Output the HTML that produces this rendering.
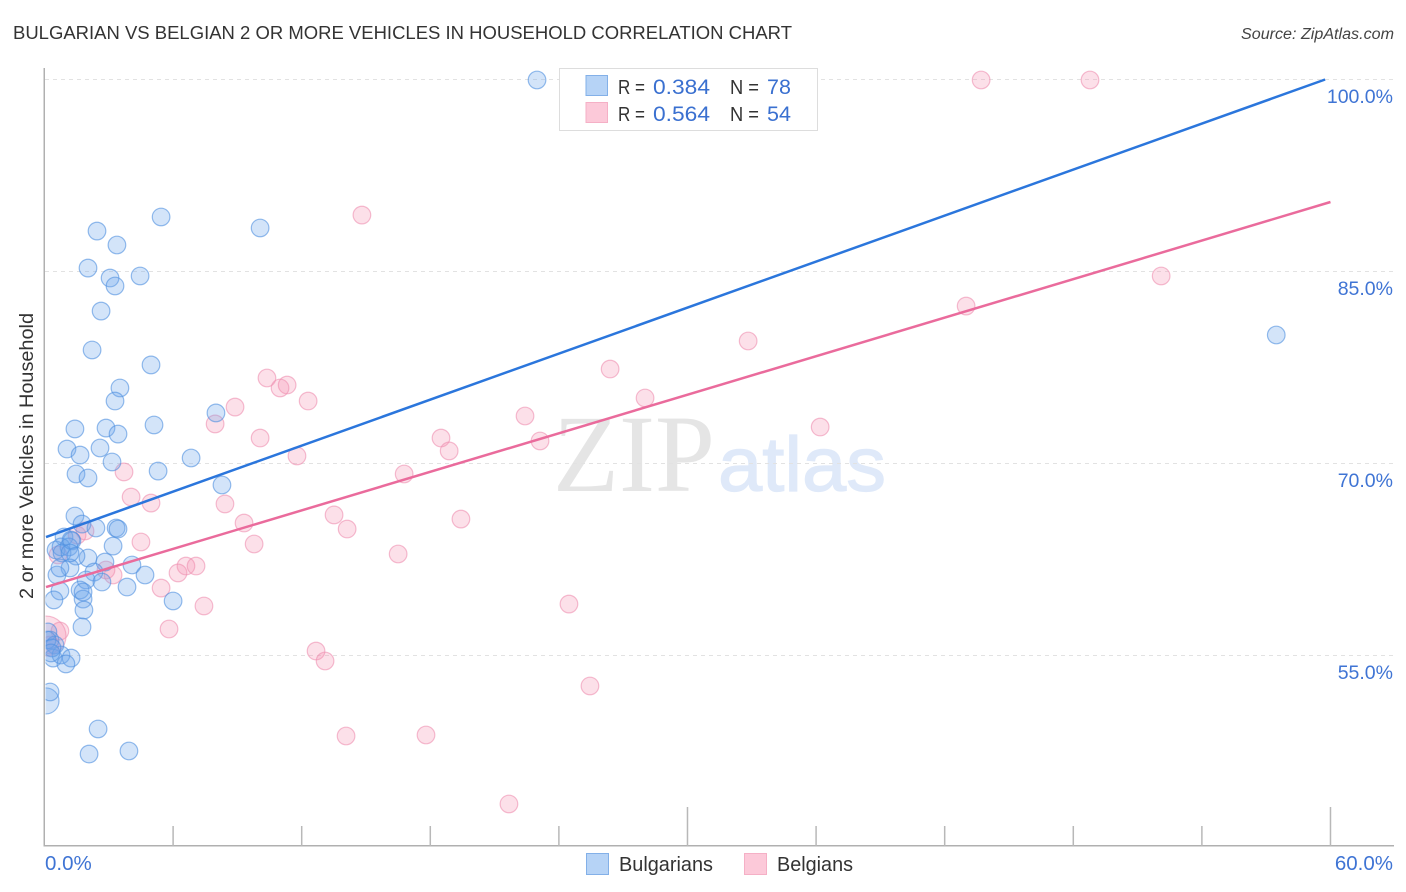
<!DOCTYPE html>
<html>
<head>
<meta charset="utf-8">
<title>Bulgarian vs Belgian 2 or more Vehicles in Household Correlation Chart</title>
<style>
html,body{margin:0;padding:0;background:#fff;}
body{width:1406px;height:892px;overflow:hidden;font-family:"Liberation Sans",sans-serif;}
svg{display:block;}
text{font-family:"Liberation Sans",sans-serif;}
</style>
</head>
<body>
<svg id="chart" width="1406" height="892" viewBox="0 0 1406 892" xmlns="http://www.w3.org/2000/svg">
  <defs><clipPath id="plot-clip"><rect x="45.5" y="60" width="1349" height="786"/></clipPath></defs>
  <text x="13" y="39" font-size="18.5" fill="#333" textLength="779" lengthAdjust="spacingAndGlyphs">BULGARIAN VS BELGIAN 2 OR MORE VEHICLES IN HOUSEHOLD CORRELATION CHART</text>
  <text x="1241" y="39" font-size="15.5" font-style="italic" fill="#444" textLength="153" lengthAdjust="spacingAndGlyphs">Source: ZipAtlas.com</text>
  <text transform="translate(33,456) rotate(-90)" font-size="19.5" fill="#333" text-anchor="middle" textLength="286" lengthAdjust="spacingAndGlyphs">2 or more Vehicles in Household</text>
  <text x="553" y="491" font-size="110" fill="#e5e5e5" style="font-family:'Liberation Serif',serif" textLength="162" lengthAdjust="spacingAndGlyphs">ZIP</text>
  <text x="718" y="491" font-size="77" fill="#dfe9f9" stroke="#dfe9f9" stroke-width="1.2" textLength="168" lengthAdjust="spacingAndGlyphs">atlas</text>
  <g id="grid"></g>
  <g id="axes"></g>
  <g id="pink-points" clip-path="url(#plot-clip)"></g>
  <g id="blue-points" clip-path="url(#plot-clip)"></g>
  <g id="trends" clip-path="url(#plot-clip)"></g>
  <g>
    <rect x="559.5" y="68.5" width="258" height="62" fill="#fff" stroke="#ddd" stroke-width="1"/>
    <rect x="586" y="75.5" width="21.5" height="20" fill="#b6d3f6" stroke="#83b0e8" stroke-width="1"/>
    <rect x="586" y="102.5" width="21.5" height="20" fill="#fcc9d9" stroke="#f5b0c6" stroke-width="1"/>
    <text x="618" y="94" font-size="20" fill="#333" textLength="27" lengthAdjust="spacingAndGlyphs">R =</text>
    <text x="653" y="94" font-size="21.5" fill="#3a70d0" textLength="57" lengthAdjust="spacingAndGlyphs">0.384</text>
    <text x="730" y="94" font-size="20" fill="#333" textLength="29" lengthAdjust="spacingAndGlyphs">N =</text>
    <text x="767" y="94" font-size="21.5" fill="#3a70d0">78</text>
    <text x="618" y="121" font-size="20" fill="#333" textLength="27" lengthAdjust="spacingAndGlyphs">R =</text>
    <text x="653" y="121" font-size="21.5" fill="#3a70d0" textLength="57" lengthAdjust="spacingAndGlyphs">0.564</text>
    <text x="730" y="121" font-size="20" fill="#333" textLength="29" lengthAdjust="spacingAndGlyphs">N =</text>
    <text x="767" y="121" font-size="21.5" fill="#3a70d0">54</text>
  </g>
  <g>
    <rect x="586.5" y="853.5" width="22" height="21" fill="#b6d3f6" stroke="#83b0e8" stroke-width="1"/>
    <text x="619" y="871" font-size="20" fill="#333" textLength="94" lengthAdjust="spacingAndGlyphs">Bulgarians</text>
    <rect x="744.5" y="853.5" width="22" height="21" fill="#fcc9d9" stroke="#f5b0c6" stroke-width="1"/>
    <text x="777" y="871" font-size="20" fill="#333" textLength="76" lengthAdjust="spacingAndGlyphs">Belgians</text>
  </g>
</svg>
<script>
const yTickValues = [100, 85, 70, 55];
const yTickLabels = ["100.0%", "85.0%", "70.0%", "55.0%"];
const xTickValues = [6, 12, 18, 24, 30, 36, 42, 48, 54, 60];
const xTickMajor = [false, false, false, false, true, false, false, false, false, true];
const xEndLabels = ["0.0%", "60.0%"];

const blueX = [22.98,57.47,5.44,10.06,2.45,3.38,2.03,3.06,4.46,3.29,2.64,2.22,4.97,3.52,3.29,5.11,8.00,1.42,2.87,3.43,1.05,1.66,2.59,3.15,6.84,1.47,2.03,5.30,8.28,1.42,1.75,2.40,3.34,3.43,0.91,1.28,0.54,0.77,1.14,1.24,0.82,2.03,1.47,3.20,2.82,4.08,1.19,0.58,2.31,1.94,4.69,3.85,2.68,0.72,1.66,1.80,0.44,1.84,6.00,1.75,0.16,0.26,0.49,0.40,0.77,1.24,1.00,0.26,2.50,2.08,3.94,0.12,0.35,1.80,1.19,0.72,0.30];
const blueY = [99.96,80.04,89.26,88.40,88.16,87.07,85.27,84.49,84.65,83.87,81.91,78.87,77.70,75.90,74.88,73.01,73.95,72.70,72.77,72.30,71.13,70.66,71.21,70.12,70.43,69.18,68.87,69.41,68.32,65.90,65.27,64.96,64.96,64.88,64.26,63.95,63.24,63.48,63.48,64.02,63.01,62.62,62.77,63.55,62.30,62.07,61.84,61.29,61.52,60.90,61.29,60.35,60.74,60.04,60.12,59.41,59.34,58.55,59.26,57.23,56.84,56.21,55.82,54.80,55.04,54.80,54.34,52.15,49.26,47.30,47.54,56.21,55.59,59.96,63.01,61.84,55.20];
const blueLargeX = [0.07];
const blueLargeY = [51.45];

const pinkX = [43.70,48.78,14.81,52.10,43.00,32.83,26.39,10.38,11.32,10.99,28.02,8.89,12.30,22.42,7.96,36.19,10.06,18.50,23.12,18.88,11.78,16.78,3.71,4.04,4.97,8.42,19.43,13.51,9.31,14.12,9.78,16.50,4.50,1.89,1.52,0.63,2.87,3.20,6.23,6.60,7.07,5.44,7.44,24.47,5.81,0.72,12.67,13.09,25.45,14.07,17.80,21.67,0.26];
const pinkY = [99.96,99.96,89.41,84.65,82.30,79.57,77.38,76.68,76.13,75.90,75.12,74.41,74.88,73.71,73.09,72.85,71.99,71.99,71.76,70.98,70.59,69.18,69.34,67.38,66.91,66.84,65.66,65.98,65.35,64.88,63.71,62.93,63.87,64.73,64.41,62.85,61.68,61.29,61.45,61.99,61.99,60.27,58.87,59.02,57.07,56.91,55.35,54.57,52.62,48.71,48.79,43.40,55.82];
const pinkLargeX = [0.07];
const pinkLargeY = [56.52];

const blueTrendX = [0.07, 59.75];
const blueTrendY = [64.25, 100];
const pinkTrendX = [0.07, 60];
const pinkTrendY = [60.35, 90.43];

const NS = "http://www.w3.org/2000/svg";
function xScale(v) { return 44.5 + v * 21.433; }
function yScale(v) { return 79.5 + (100 - v) * 12.8; }
function make(tag, parent, attrs) {
  const el = document.createElementNS(NS, tag);
  for (const k in attrs) el.setAttribute(k, attrs[k]);
  parent.appendChild(el);
  return el;
}

const gridLayer = document.getElementById("grid");
const axesLayer = document.getElementById("axes");

yTickValues.forEach(function (v, i) {
  const line = make("line", gridLayer, {x1: 45, x2: 1394, y1: yScale(v), y2: yScale(v), stroke: "#e2e2e2", "stroke-width": 1, "stroke-dasharray": "4 4"});
  
  
  const label = make("text", axesLayer, {x: 1393, y: yScale(v) + 23.5, "font-size": 19.5, fill: "#3f74d4", "text-anchor": "end"});
  label.textContent = yTickLabels[i];
  
  
});

const yAxisLine = make("line", axesLayer, {x1: 44.25, x2: 44.25, y1: 68, y2: 846.5, stroke: "#b0b0b0", "stroke-width": 1.5});


const xAxisLine = make("line", axesLayer, {x1: 43.5, x2: 1394, y1: 845.75, y2: 845.75, stroke: "#b0b0b0", "stroke-width": 1.5});



xTickValues.forEach(function (v, i) {
  const tick = make("line", axesLayer, {x1: xScale(v), x2: xScale(v), y1: xTickMajor[i] ? 807 : 826, y2: 846, stroke: "#b8b8b8", "stroke-width": 1.5});
  
  
});

const xLabelStart = make("text", axesLayer, {x: 45, y: 870, "font-size": 20.5, fill: "#3f74d4"});
xLabelStart.textContent = xEndLabels[0];


const xLabelEnd = make("text", axesLayer, {x: 1393, y: 870, "font-size": 20.5, fill: "#3f74d4", "text-anchor": "end"});
xLabelEnd.textContent = xEndLabels[1];



function drawPoint(layer, x, y, r, fill, stroke, fillOpacity) {
  return make("circle", layer, {cx: xScale(x), cy: yScale(y), r: r, fill: fill, "fill-opacity": fillOpacity, stroke: stroke, "stroke-opacity": 0.6, "stroke-width": 1.2});
}

const pinkLayer = document.getElementById("pink-points");
const blueLayer = document.getElementById("blue-points");

pinkLargeX.forEach(function (x, i) {
  const c = drawPoint(pinkLayer, x, pinkLargeY[i], 20, "#f48fb1", "#ee8fb0", 0.28);
  
  
});
pinkX.forEach(function (x, i) {
  const c = drawPoint(pinkLayer, x, pinkY[i], 8.8, "#f48fb1", "#ee8fb0", 0.28);
  
  
});
blueLargeX.forEach(function (x, i) {
  const c = drawPoint(blueLayer, x, blueLargeY[i], 13, "#6ea6ea", "#4f8fe0", 0.3);
  
  
});
blueX.forEach(function (x, i) {
  const c = drawPoint(blueLayer, x, blueY[i], 8.8, "#6ea6ea", "#4f8fe0", 0.3);
  
  
});

const trendLayer = document.getElementById("trends");
const blueTrend = make("line", trendLayer, {x1: xScale(blueTrendX[0]), y1: yScale(blueTrendY[0]), x2: xScale(blueTrendX[1]), y2: yScale(blueTrendY[1]), stroke: "#2b76dc", "stroke-width": 2.5});


const pinkTrend = make("line", trendLayer, {x1: xScale(pinkTrendX[0]), y1: yScale(pinkTrendY[0]), x2: xScale(pinkTrendX[1]), y2: yScale(pinkTrendY[1]), stroke: "#ea6b9c", "stroke-width": 2.5});


</script>
</body>
</html>
